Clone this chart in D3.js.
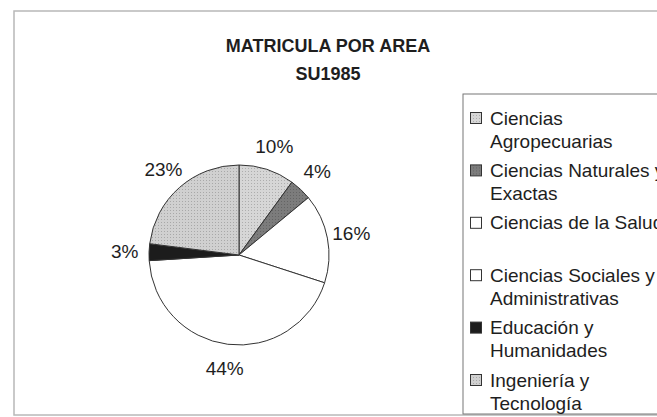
<!DOCTYPE html>
<html>
<head>
<meta charset="utf-8">
<script src="https://cdn.jsdelivr.net/npm/d3@7"></script>
<style>
  body { margin: 0; background: #fff; }
  text { font-family: "Liberation Sans", Arial, sans-serif; fill: #1e1e1e; }
</style>
</head>
<body>
<div id="viz-container"></div>
<script>
var TITLE = ["MATRICULA POR AREA", "SU1985"];
var categories = ["Ciencias\nAgropecuarias", "Ciencias Naturales y\nExactas", "Ciencias de la Salud",
                  "Ciencias Sociales y\nAdministrativas", "Educación y\nHumanidades", "Ingeniería y\nTecnología"];
var values = [10, 4, 16, 44, 3, 23];
var fills = ["#d6d6d6", "#7c7c7c", "#ffffff", "#ffffff", "#1c1c1c", "#d0d0d0"];

function init() {
	var svg = d3.select('#viz-container').append('svg')
		.attr('width', 657)
		.attr('height', 417);

	// texture for the grey slices, like the printed original
	var defs = svg.append('defs');
	fills.forEach(function(c, i) {
		var p = defs.append('pattern')
			.attr('id', 'pat' + i)
			.attr('width', 3).attr('height', 3)
			.attr('patternUnits', 'userSpaceOnUse');
		p.append('rect').attr('width', 3).attr('height', 3).attr('fill', c);
		if (c != '#ffffff' && c != '#1c1c1c')
			p.append('rect').attr('width', 1).attr('height', 1).attr('fill', d3.color(c).darker(0.6));
	});

	// outer chart frame
	svg.append('rect')
		.attr('x', 14).attr('y', 11)
		.attr('width', 700).attr('height', 404)
		.attr('fill', 'none')
		.attr('stroke', '#b8b8b8')
		.attr('stroke-width', 1.5);

	svg.append('g').selectAll('text')
		.data(TITLE)
		.enter().append('text')
		.attr('x', 328)
		.attr('y', function(d, i) { return 52 + i * 28; })
		.attr('text-anchor', 'middle')
		.style('font-size', '18px')
		.style('font-weight', 'bold')
		.text(function(d) { return d; });

	var cx = 239, cy = 255, r = 90;

	var pie = d3.pie().sort(null).value(function(d) { return d; });
	var arcs = pie(values);
	var arc = d3.arc().innerRadius(0).outerRadius(r);
	var labelArc = d3.arc().innerRadius(r * 1.27).outerRadius(r * 1.27);

	var g = svg.append('g').attr('transform', 'translate(' + cx + ',' + cy + ')');

	g.selectAll('path')
		.data(arcs)
		.enter().append('path')
		.attr('d', arc)
		.attr('fill', function(d, i) { return 'url(#pat' + i + ')'; })
		.attr('stroke', '#333')
		.attr('stroke-width', 1);

	g.selectAll('.lbl')
		.data(arcs)
		.enter().append('text')
		.attr('class', 'lbl')
		.attr('transform', function(d) { return 'translate(' + labelArc.centroid(d) + ')'; })
		.attr('text-anchor', 'middle')
		.attr('dy', '0.35em')
		.style('font-size', '19px')
		.text(function(d) { return d.data + '%'; });

	// legend
	var lg = svg.append('g');
	lg.append('rect')
		.attr('x', 463).attr('y', 94)
		.attr('width', 300).attr('height', 320)
		.attr('fill', '#fff')
		.attr('stroke', '#777')
		.attr('stroke-width', 1);

	var item = lg.selectAll('.item')
		.data(categories)
		.enter().append('g')
		.attr('class', 'item')
		.attr('transform', function(d, i) { return 'translate(470,' + (118 + i * 52.4) + ')'; });

	item.append('rect')
		.attr('x', 0.5).attr('y', -5.5)
		.attr('width', 11).attr('height', 11)
		.attr('fill', function(d, i) { return 'url(#pat' + i + ')'; })
		.attr('stroke', '#333');

	item.selectAll('text')
		.data(function(d) { return d.split('\n'); })
		.enter().append('text')
		.attr('x', 20)
		.attr('y', function(d, i) { return i * 23; })
		.attr('dy', '0.35em')
		.style('font-size', '19px')
		.text(function(d) { return d; });
}

init();
</script>
</body>
</html>
